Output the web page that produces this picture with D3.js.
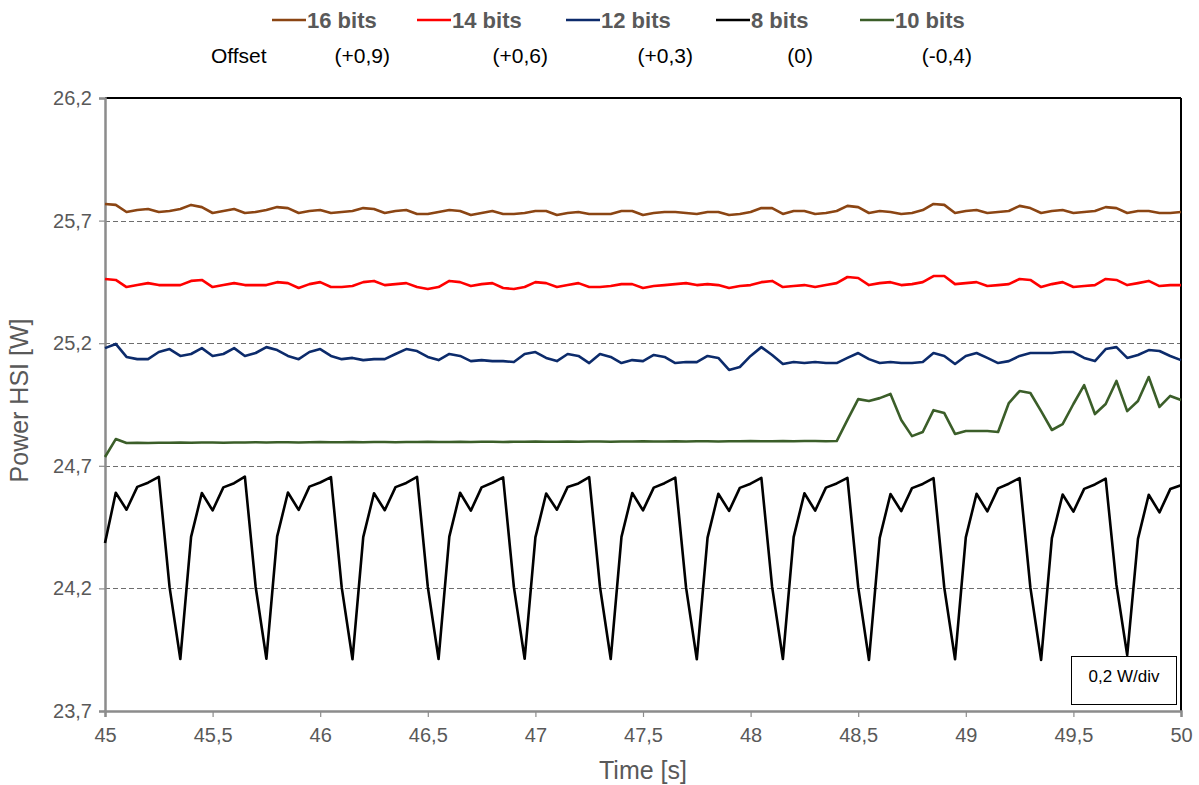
<!DOCTYPE html>
<html><head><meta charset="utf-8">
<script src="https://cdn.jsdelivr.net/npm/d3@7"></script>
<style>body{margin:0;background:#fff}svg{display:block}</style>
</head><body><svg id="c" width="1199" height="785"></svg>
<script>
// ---- data ----
const seriesNames = ["16 bits", "14 bits", "12 bits", "8 bits", "10 bits"];
const offsetLabels = ["(+0,9)", "(+0,6)", "(+0,3)", "(0)", "(-0,4)"];
const offsetTitle = "Offset";
const timeStart = 45, timeStep = 0.05;
const xTicks = [45, 45.5, 46, 46.5, 47, 47.5, 48, 48.5, 49, 49.5, 50];
const yTicks = [23.7, 24.2, 24.7, 25.2, 25.7, 26.2];
const gridValues = [24.2, 24.7, 25.2, 25.7];
const xTitle = "Time [s]";
const yTitle = "Power HSI [W]";
const scaleNote = "0,2 W/div";

const bits16 = [
25.768,25.764,25.735,25.743,25.747,25.735,25.739,25.747,25.764,25.755,
25.731,25.739,25.747,25.731,25.735,25.743,25.755,25.751,25.731,25.739,
25.743,25.731,25.735,25.739,25.751,25.747,25.731,25.739,25.743,25.727,
25.727,25.735,25.743,25.739,25.723,25.731,25.739,25.727,25.727,25.731,
25.739,25.739,25.723,25.731,25.735,25.727,25.727,25.727,25.739,25.739,
25.723,25.731,25.735,25.735,25.731,25.727,25.735,25.735,25.723,25.727,
25.735,25.751,25.751,25.727,25.739,25.739,25.727,25.731,25.739,25.760,
25.755,25.731,25.739,25.735,25.727,25.731,25.743,25.768,25.764,25.731,
25.739,25.743,25.731,25.735,25.739,25.760,25.751,25.731,25.739,25.743,
25.731,25.735,25.739,25.755,25.751,25.731,25.739,25.739,25.731,25.731,
25.735];
const bits14 = [
25.462,25.458,25.429,25.437,25.445,25.437,25.437,25.437,25.454,25.458,
25.429,25.437,25.445,25.437,25.437,25.437,25.449,25.445,25.425,25.441,
25.449,25.429,25.429,25.433,25.449,25.454,25.437,25.441,25.445,25.429,
25.421,25.429,25.454,25.449,25.433,25.441,25.445,25.425,25.421,25.429,
25.449,25.445,25.429,25.437,25.445,25.429,25.429,25.433,25.441,25.441,
25.425,25.433,25.437,25.441,25.445,25.437,25.441,25.437,25.425,25.433,
25.437,25.449,25.454,25.429,25.433,25.437,25.429,25.437,25.445,25.470,
25.466,25.437,25.445,25.449,25.437,25.441,25.449,25.474,25.474,25.441,
25.445,25.449,25.433,25.437,25.441,25.462,25.458,25.429,25.441,25.449,
25.429,25.433,25.437,25.462,25.458,25.437,25.445,25.454,25.433,25.437,
25.437];
const bits12 = [
25.180,25.197,25.144,25.135,25.135,25.164,25.176,25.148,25.156,25.180,
25.148,25.156,25.180,25.148,25.160,25.184,25.172,25.148,25.135,25.164,
25.176,25.148,25.135,25.140,25.131,25.135,25.135,25.156,25.176,25.168,
25.144,25.131,25.156,25.148,25.127,25.131,25.127,25.127,25.123,25.156,
25.164,25.140,25.127,25.156,25.148,25.119,25.156,25.144,25.119,25.131,
25.127,25.152,25.144,25.119,25.123,25.123,25.148,25.140,25.091,25.103,
25.148,25.184,25.152,25.115,25.123,25.119,25.123,25.119,25.119,25.140,
25.160,25.135,25.119,25.123,25.119,25.119,25.123,25.160,25.148,25.115,
25.148,25.160,25.140,25.119,25.127,25.148,25.160,25.160,25.160,25.164,
25.164,25.140,25.127,25.176,25.184,25.140,25.152,25.172,25.168,25.148,
25.131];
const bits8 = [
24.385,24.590,24.521,24.614,24.631,24.655,24.205,23.912,
24.410,24.589,24.518,24.612,24.629,24.656,24.207,23.913,
24.412,24.591,24.520,24.615,24.632,24.654,24.204,23.911,
24.409,24.588,24.519,24.613,24.630,24.655,24.206,23.912,
24.411,24.590,24.517,24.612,24.631,24.653,24.205,23.913,
24.408,24.587,24.521,24.614,24.628,24.654,24.207,23.912,
24.410,24.589,24.518,24.611,24.629,24.652,24.204,23.911,
24.407,24.586,24.516,24.610,24.627,24.651,24.206,23.912,
24.409,24.588,24.517,24.611,24.628,24.651,24.205,23.908,
24.406,24.585,24.515,24.609,24.626,24.650,24.203,23.911,
24.408,24.586,24.514,24.608,24.627,24.650,24.204,23.908,
24.405,24.583,24.513,24.606,24.624,24.648,24.215,23.928,
24.402,24.582,24.510,24.605,24.621];
const bits10 = [
24.736,24.809,24.793,
24.794,24.793,24.794,24.794,24.795,24.794,24.795,24.795,24.794,24.795,
24.795,24.796,24.795,24.796,24.796,24.795,24.796,24.797,24.796,24.796,
24.797,24.796,24.797,24.797,24.796,24.797,24.797,24.798,24.797,24.797,
24.798,24.797,24.798,24.798,24.797,24.798,24.798,24.799,24.798,24.798,
24.799,24.798,24.799,24.799,24.798,24.799,24.799,24.800,24.799,24.799,
24.800,24.799,24.800,24.800,24.799,24.800,24.800,24.801,24.800,24.800,
24.801,24.800,24.801,24.801,24.800,
24.801,
24.887,24.972,24.964,24.976,24.993,24.887,24.821,24.838,24.927,24.915,24.830,
24.842,24.842,24.842,24.838,24.956,25.005,24.997,24.923,24.846,24.870,
24.952,25.029,24.911,24.952,25.046,24.923,24.964,25.062,24.940,24.985,
24.968];
const seriesColors = ["#8b4513", "#ff0000", "#0c2b6b", "#000000", "#3b5e29"];

// ---- layout ----
const svg = d3.select("#c");
const W = 1199, H = 785;
const m = {left: 105, right: 18, top: 98, bottom: 74};
const pw = W - m.left - m.right, ph = H - m.top - m.bottom;
const FONT = "'Liberation Sans', Arial, sans-serif";
const GREY = "#595959";

const x = d3.scaleLinear().domain([45, 50]).range([m.left, m.left + pw]);
const y = d3.scaleLinear().domain([23.7, 26.2]).range([m.top + ph, m.top]);
const fmt = v => String(v).replace(".", ",");

// gridlines
svg.append("g").selectAll("line").data(gridValues).join("line")
  .attr("x1", m.left).attr("x2", m.left + pw)
  .attr("y1", d => Math.round(y(d)) + 0.5).attr("y2", d => Math.round(y(d)) + 0.5)
  .attr("stroke", "#6e6e6e").attr("stroke-width", 1).attr("stroke-dasharray", "5,3");

// frame top/right black
svg.append("line").attr("x1", m.left).attr("x2", m.left + pw).attr("y1", m.top).attr("y2", m.top)
  .attr("stroke", "#000").attr("stroke-width", 2);
svg.append("line").attr("x1", m.left + pw).attr("x2", m.left + pw).attr("y1", m.top).attr("y2", m.top + ph)
  .attr("stroke", "#000").attr("stroke-width", 2);

// axes
const yAxis = d3.axisLeft(y).tickValues(yTicks).tickFormat(fmt).tickSize(6).tickPadding(7);
const gy = svg.append("g").attr("transform", `translate(${m.left},0)`).call(yAxis);
const xAxis = d3.axisBottom(x).tickValues(xTicks).tickFormat(fmt).tickSize(6).tickPadding(11);
const gx = svg.append("g").attr("transform", `translate(0,${m.top + ph})`).call(xAxis);
[gx, gy].forEach(g => {
  g.select(".domain").attr("stroke", "#8c8c8c").attr("stroke-width", 2.5);
  g.selectAll(".tick line").attr("stroke", "#8c8c8c").attr("stroke-width", 1.2);
  g.selectAll(".tick text").attr("fill", GREY).attr("font-family", FONT).attr("font-size", 20);
});

// series
const allSeries = [bits16, bits14, bits12, bits8, bits10];
const line = d3.line().x((d, i) => x(timeStart + i * timeStep)).y(d => y(d));
svg.append("g").selectAll("path").data(allSeries).join("path")
  .attr("d", line).attr("fill", "none")
  .attr("stroke", (d, i) => seriesColors[i]).attr("stroke-width", 2.6)
  .attr("stroke-linejoin", "round");

// axis titles
svg.append("text").attr("x", m.left + pw / 2).attr("y", 779).attr("text-anchor", "middle")
  .attr("font-family", FONT).attr("font-size", 25).attr("fill", GREY).text(xTitle);
svg.append("text").attr("transform", `translate(28,${m.top + ph / 2 - 4}) rotate(-90)`)
  .attr("text-anchor", "middle").attr("font-family", FONT).attr("font-size", 25)
  .attr("fill", GREY).text(yTitle);

// legend
const legX = [272, 417, 566, 716, 860];
const lg = svg.append("g");
seriesNames.forEach((n, i) => {
  lg.append("line").attr("x1", legX[i]).attr("x2", legX[i] + 34).attr("y1", 20).attr("y2", 20)
    .attr("stroke", seriesColors[i]).attr("stroke-width", 2.6);
  lg.append("text").attr("x", legX[i] + 35).attr("y", 28).attr("font-family", FONT)
    .attr("font-weight", "bold").attr("font-size", 22).attr("fill", GREY).text(n);
});
const offX = [390, 548, 693, 813, 972];
lg.append("text").attr("x", 211).attr("y", 63).attr("font-family", FONT).attr("font-size", 21)
  .attr("fill", "#000").text(offsetTitle);
offsetLabels.forEach((t, i) => {
  lg.append("text").attr("x", offX[i]).attr("y", 63).attr("text-anchor", "end")
    .attr("font-family", FONT).attr("font-size", 21).attr("fill", "#000").text(t);
});

// scale note box
svg.append("rect").attr("x", 1071.5).attr("y", 656.5).attr("width", 105).attr("height", 48)
  .attr("fill", "#fff").attr("stroke", "#000").attr("stroke-width", 1);
svg.append("text").attr("x", 1124).attr("y", 682).attr("text-anchor", "middle")
  .attr("font-family", FONT).attr("font-size", 17).attr("fill", "#000").text(scaleNote);
</script></body></html>
